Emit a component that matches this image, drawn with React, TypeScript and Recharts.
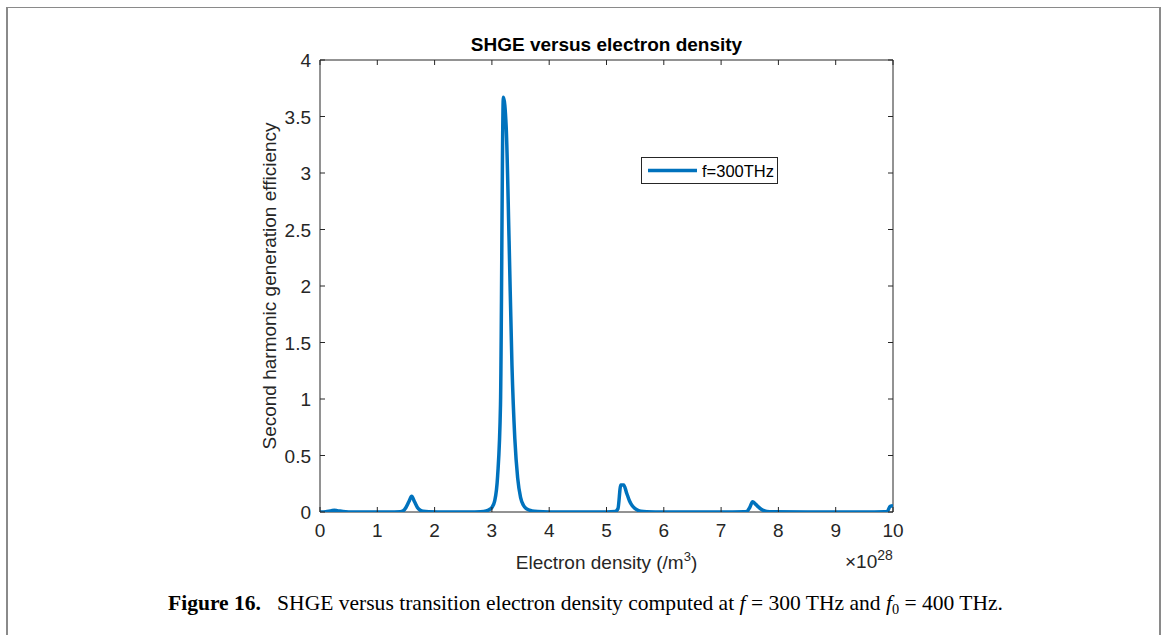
import React from "react";
import { LineChart, Line, XAxis, YAxis, ReferenceArea } from "recharts";

// Electron density (×10^28 /m^3)
const densityValues: number[] = [
  0, 0.1, 0.2, 0.25, 0.3, 0.4, 0.5, 0.8, 1.2, 1.4, 1.45, 1.5, 1.55, 1.6, 1.65, 1.7, 1.75, 1.8, 1.9,
  2.2, 2.6, 2.8, 2.9, 2.95, 3.0, 3.05, 3.1, 3.15, 3.2, 3.25, 3.3, 3.35, 3.4, 3.45, 3.5, 3.55, 3.6,
  3.7, 3.8, 4.0, 4.5, 5.0, 5.15, 5.2, 5.25, 5.3, 5.35, 5.4, 5.45, 5.5, 5.55, 5.6, 5.7, 6.0, 7.0,
  7.4, 7.45, 7.5, 7.55, 7.6, 7.65, 7.7, 7.75, 7.8, 7.9, 8.5, 9.5, 9.85, 9.9, 9.95, 10,
];
// Second harmonic generation efficiency, f = 300 THz
const shgeValues: number[] = [
  0, 0.003, 0.012, 0.015, 0.012, 0.004, 0.001, 0, 0, 0.003, 0.01, 0.04, 0.09, 0.14, 0.09, 0.04, 0.015, 0.006, 0.002,
  0, 0, 0.003, 0.01, 0.02, 0.04, 0.1, 0.32, 0.95, 3.67, 3.4, 2.4, 1.3, 0.65, 0.3, 0.13, 0.06, 0.03,
  0.01, 0.004, 0.001, 0, 0, 0.004, 0.03, 0.24, 0.24, 0.17, 0.1, 0.055, 0.03, 0.015, 0.007, 0.002, 0, 0,
  0.002, 0.006, 0.04, 0.09, 0.07, 0.045, 0.025, 0.012, 0.005, 0.002, 0, 0, 0.002, 0.006, 0.05, 0.055,
];
const xTicks: number[] = [0, 1, 2, 3, 4, 5, 6, 7, 8, 9, 10];
const yTicks: number[] = [0, 0.5, 1, 1.5, 2, 2.5, 3, 3.5, 4];
const seriesName = "f=300THz";

const data = densityValues.map((x, i) => ({ x, y: shgeValues[i] }));

const W = 1165;
const H = 635;
const PLOT_LEFT = 320;
const PLOT_RIGHT = 893;
const PLOT_TOP = 60;
const PLOT_BOTTOM = 512;
const AXIS_COLOR = "#262626";
const LINE_COLOR = "#0072BD";
const FONT = "'Liberation Sans', Arial, sans-serif";
const TICK_MARGIN = 8;
const TICK_LEN = 5;
const LABEL_SIZE = 19;

const XTick = (props: any) => {
  const { x, y, payload } = props;
  const axisY = y - TICK_MARGIN;
  const topY = axisY - (PLOT_BOTTOM - PLOT_TOP);
  return (
    <g>
      <line x1={x} x2={x} y1={axisY} y2={axisY - TICK_LEN} stroke={AXIS_COLOR} strokeWidth={1} />
      <line x1={x} x2={x} y1={topY} y2={topY + TICK_LEN} stroke={AXIS_COLOR} strokeWidth={1} />
      <text x={x} y={axisY + 25} textAnchor="middle" fontSize={LABEL_SIZE} fill={AXIS_COLOR} fontFamily={FONT}>
        {String(payload.value)}
      </text>
    </g>
  );
};

const YTick = (props: any) => {
  const { x, y, payload } = props;
  const axisX = x + TICK_MARGIN;
  const rightX = axisX + (PLOT_RIGHT - PLOT_LEFT);
  return (
    <g>
      <line x1={axisX} x2={axisX + TICK_LEN} y1={y} y2={y} stroke={AXIS_COLOR} strokeWidth={1} />
      <line x1={rightX} x2={rightX - TICK_LEN} y1={y} y2={y} stroke={AXIS_COLOR} strokeWidth={1} />
      <text x={axisX - 9} y={y + 7} textAnchor="end" fontSize={LABEL_SIZE} fill={AXIS_COLOR} fontFamily={FONT}>
        {String(payload.value)}
      </text>
    </g>
  );
};

export default function App() {
  return (
    <div
      style={{
        position: "absolute",
        left: 0,
        top: 0,
        width: W,
        height: H,
        background: "#fff",
        overflow: "hidden",
      }}
    >
      <div
        style={{
          position: "absolute",
          left: 6,
          top: 7,
          width: 1151,
          height: 700,
          borderLeft: "2px solid #8a8a8a",
          borderRight: "2px solid #8a8a8a",
          borderTop: "1px solid #8a8a8a",
        }}
      />
      <div style={{ position: "absolute", left: 0, top: 0 }}>
        <LineChart
          width={W}
          height={H}
          data={data}
          margin={{ top: PLOT_TOP, right: W - PLOT_RIGHT, bottom: H - PLOT_BOTTOM - 40, left: PLOT_LEFT - 60 }}
        >
          <XAxis
            dataKey="x"
            type="number"
            domain={[0, 10]}
            ticks={xTicks}
            interval={0}
            height={40}
            tickSize={0}
            tickMargin={TICK_MARGIN}
            tickLine={false}
            axisLine={false}
            tick={<XTick />}
            allowDataOverflow
          />
          <YAxis
            type="number"
            domain={[0, 4]}
            ticks={yTicks}
            interval={0}
            width={60}
            tickSize={0}
            tickMargin={TICK_MARGIN}
            tickLine={false}
            axisLine={false}
            tick={<YTick />}
            allowDataOverflow
          />
          <ReferenceArea
            x1={0}
            x2={10}
            y1={0}
            y2={4}
            fill="none"
            fillOpacity={0}
            stroke={AXIS_COLOR}
            strokeWidth={1}
            ifOverflow="visible"
          />
          <Line
            type="monotone"
            dataKey="y"
            name={seriesName}
            stroke={LINE_COLOR}
            strokeWidth={3.5}
            dot={false}
            isAnimationActive={false}
            strokeLinejoin="round"
          />
        </LineChart>
      </div>
      <svg
        width={W}
        height={H}
        style={{ position: "absolute", left: 0, top: 0, pointerEvents: "none" }}
      >
        <g transform="translate(641, 157)">
          <rect x={0.5} y={0.5} width={136} height={26} fill="#fff" stroke={AXIS_COLOR} strokeWidth={1} />
          <line x1={7} x2={56} y1={13.5} y2={13.5} stroke={LINE_COLOR} strokeWidth={3.5} />
          <text x={61} y={19.5} fontSize={16.5} fill="#000" fontFamily={FONT}>
            {seriesName}
          </text>
        </g>
        <text x={606.5} y={51} textAnchor="middle" fontSize={LABEL_SIZE} fontWeight="bold" fill="#000" fontFamily={FONT}>
          SHGE versus electron density
        </text>
        <text
          x={0}
          y={0}
          transform={`translate(276, 286) rotate(-90)`}
          textAnchor="middle"
          fontSize={LABEL_SIZE}
          fill={AXIS_COLOR}
          fontFamily={FONT}
        >
          Second harmonic generation efficiency
        </text>
        <text x={606.5} y={569} textAnchor="middle" fontSize={LABEL_SIZE} fill={AXIS_COLOR} fontFamily={FONT}>
          Electron density (/m
          <tspan dy={-8} fontSize={13}>3</tspan>
          <tspan dy={8}>)</tspan>
        </text>
        <text x={845} y={568} fontSize={LABEL_SIZE} fill={AXIS_COLOR} fontFamily={FONT}>
          ×10
          <tspan dy={-8} fontSize={14}>28</tspan>
        </text>
        <text
          x={168}
          y={610}
          fontSize={21}
          fill="#000"
          fontFamily="'Liberation Serif', 'Times New Roman', serif"
          textLength={835}
          lengthAdjust="spacingAndGlyphs"
        >
          <tspan fontWeight="bold">Figure 16.</tspan>
          <tspan>{"\u2002 SHGE versus transition electron density computed at "}</tspan>
          <tspan fontStyle="italic">f</tspan>
          <tspan>{" = 300 THz and "}</tspan>
          <tspan fontStyle="italic">f</tspan>
          <tspan dy={4} fontSize={14}>0</tspan>
          <tspan dy={-4}>{" = 400 THz."}</tspan>
        </text>
      </svg>
    </div>
  );
}
